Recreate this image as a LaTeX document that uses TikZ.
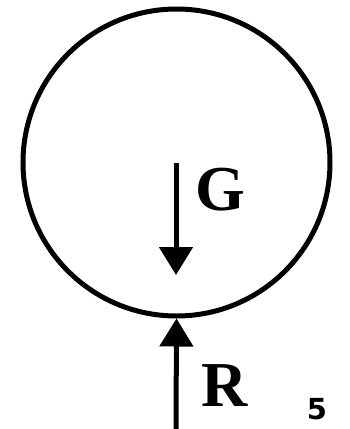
\documentclass[tikz,border=0pt]{standalone}
\usepackage{fontspec}
\setmainfont{Liberation Serif}
\newfontfamily\numfont{DejaVu Sans}
\usetikzlibrary{arrows.meta}

\tikzset{
    force/.style={line width=5pt,-{Triangle[width=33pt,length=28pt]}},
    forcelabel/.style={inner sep=0pt,font=\fontsize{64}{64}\selectfont\bfseries},
}

\begin{document}
\begin{tikzpicture}[x=1pt,y=-1pt]
    \useasboundingbox (0,0) rectangle (349,429);
    % ball
    \node[circle,draw,line width=5pt,inner sep=0pt,minimum size=307pt] (ball) at (176.5,162.5) {};
    % weight
    \coordinate (gtip) at (176,275);
    \draw[force] (176,163) coordinate (gstart) -- (gtip);
    \node[forcelabel] (glabel) at (220,190) {G};
    % reaction
    \coordinate (rfoot) at (176,432);
    \draw[force] (rfoot) -- (ball.south);
    \node[forcelabel] (rlabel) at (225,386) {R};
    \node[inner sep=0pt,font=\numfont\fontsize{29}{29}\selectfont\bfseries] (pagenum) at (317,409) {5};
\end{tikzpicture}
\end{document}
